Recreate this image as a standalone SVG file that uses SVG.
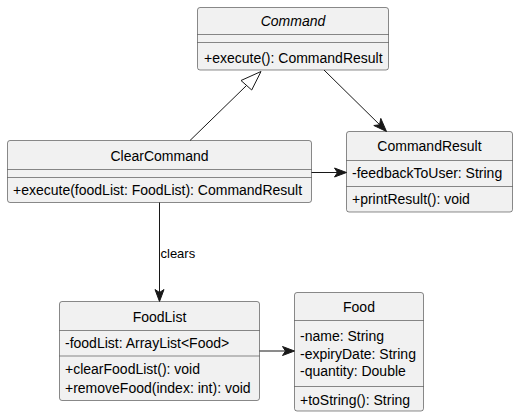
<svg xmlns="http://www.w3.org/2000/svg" width="518" height="417" viewBox="0 0 518 417">
<style>
.box{fill:#F1F1F1;stroke:#181818;stroke-width:0.5}
.sep{stroke:#181818;stroke-width:0.5}
.t{font-family:"Liberation Sans",Arial,sans-serif;font-size:14px;fill:#000}
.m{font-family:"Liberation Sans",Arial,sans-serif;font-size:14px;fill:#000}
.lbl{font-family:"Liberation Sans",Arial,sans-serif;font-size:13px;fill:#000}
.edge{stroke:#181818;stroke-width:1;fill:none}
.head{fill:#181818;stroke:#181818;stroke-width:1}
.tri{fill:none;stroke:#181818;stroke-width:1}
</style>
<rect width="518" height="417" fill="#FFFFFF"/>
<g id="Command">
<rect class="box" x="197.5" y="7.5" width="191" height="62.5" rx="2.5"/>
<line class="sep" x1="197.5" y1="34.5" x2="388.5" y2="34.5"/>
<line class="sep" x1="197.5" y1="42.5" x2="388.5" y2="42.5"/>
<text class="t" x="293" y="26" text-anchor="middle" font-style="italic">Command</text>
<text class="m" x="204" y="63">+execute(): CommandResult</text>
</g>
<g id="CommandResult">
<rect class="box" x="346.5" y="131.5" width="166" height="80.5" rx="2.5"/>
<line class="sep" x1="346.5" y1="160.5" x2="512.5" y2="160.5"/>
<line class="sep" x1="346.5" y1="186.5" x2="512.5" y2="186.5"/>
<text class="t" x="429.5" y="151" text-anchor="middle">CommandResult</text>
<text class="m" x="352" y="178">-feedbackToUser: String</text>
<text class="m" x="352" y="204">+printResult(): void</text>
</g>
<g id="ClearCommand">
<rect class="box" x="7.5" y="140.5" width="304" height="62" rx="2.5"/>
<line class="sep" x1="7.5" y1="169.5" x2="311.5" y2="169.5"/>
<line class="sep" x1="7.5" y1="177.5" x2="311.5" y2="177.5"/>
<text class="t" x="159.5" y="161" text-anchor="middle">ClearCommand</text>
<text class="m" x="13" y="195">+execute(foodList: FoodList): CommandResult</text>
</g>
<g id="FoodList">
<rect class="box" x="59.5" y="301.5" width="200" height="99" rx="2.5"/>
<line class="sep" x1="59.5" y1="330.5" x2="259.5" y2="330.5"/>
<line class="sep" x1="59.5" y1="356" x2="259.5" y2="356"/>
<text class="t" x="159.5" y="322" text-anchor="middle">FoodList</text>
<text class="m" x="65" y="348">-foodList: ArrayList&lt;Food&gt;</text>
<text class="m" x="65" y="374">+clearFoodList(): void</text>
<text class="m" x="65" y="393">+removeFood(index: int): void</text>
</g>
<g id="Food">
<rect class="box" x="294.5" y="292.5" width="129" height="118.5" rx="2.5"/>
<line class="sep" x1="294.5" y1="320.5" x2="423.5" y2="320.5"/>
<line class="sep" x1="294.5" y1="386.5" x2="423.5" y2="386.5"/>
<text class="t" x="359" y="312" text-anchor="middle">Food</text>
<text class="m" x="300" y="341">-name: String</text>
<text class="m" x="300" y="358.5">-expiryDate: String</text>
<text class="m" x="300" y="376">-quantity: Double</text>
<text class="m" x="300" y="404.5">+toString(): String</text>
</g>
<g id="connectors">
<line class="edge" x1="190" y1="140.5" x2="246.5" y2="85.5"/>
<polygon class="tri" points="261,71.5 241,80.5 251.7,90"/>
<line class="edge" x1="324" y1="70" x2="383" y2="128"/>
<polygon class="head" points="386.5,131.5 373.8,125.5 379.5,124.8 380.8,118.4"/>
<line class="edge" x1="311.5" y1="172.5" x2="343" y2="172.5"/>
<polygon class="head" points="346.5,172.5 334.5,168 337.5,172.5 334.5,177"/>
<line class="edge" x1="159.5" y1="202.5" x2="159.5" y2="298"/>
<polygon class="head" points="159.5,301.5 155,289.5 159.5,292.5 164,289.5"/>
<text class="lbl" x="160.5" y="258">clears</text>
<line class="edge" x1="259.5" y1="351" x2="291" y2="351"/>
<polygon class="head" points="294.5,351 282.5,346.5 285.5,351 282.5,355.5"/>
</g>
</svg>
